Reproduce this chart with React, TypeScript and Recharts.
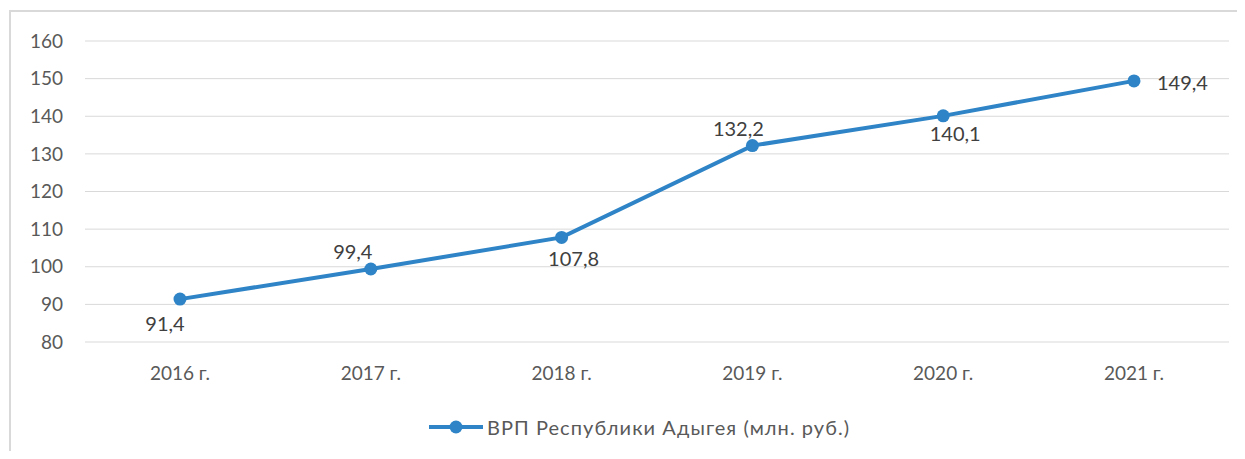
import { CartesianGrid, LabelList, Legend, Line, LineChart, XAxis, YAxis } from "recharts";

const years = ["2016 г.", "2017 г.", "2018 г.", "2019 г.", "2020 г.", "2021 г."];
const grpValues = [91.4, 99.4, 107.8, 132.2, 140.1, 149.4];
const yTicks = [80, 90, 100, 110, 120, 130, 140, 150, 160];
const seriesName = "ВРП Республики Адыгея (млн. руб.)";

// where each data label sits relative to its point
const labelOffsets = [
  { dx: -15, dy: 24, anchor: "middle" },
  { dx: -18, dy: -18, anchor: "middle" },
  { dx: 12, dy: 21, anchor: "middle" },
  { dx: -14, dy: -18, anchor: "middle" },
  { dx: 12, dy: 17, anchor: "middle" },
  { dx: 23, dy: 1, anchor: "start" },
];

const rows = years.map((year, i) => ({ year, value: grpValues[i] }));

const blue = "#2E84C6";
const font = "Lato, 'Liberation Sans', sans-serif";
const axisText = { fill: "#595959", fontSize: 19, fontFamily: font };

const fmt = (v: number) => v.toFixed(1).replace(".", ",");

function PointLabel(props: any) {
  const { x, y, value, index } = props;
  const off = labelOffsets[index] ?? { dx: 0, dy: -18, anchor: "middle" };
  return (
    <text
      x={x + off.dx}
      y={y + off.dy}
      textAnchor={off.anchor}
      dominantBaseline="central"
      fill="#404040"
      fontSize={20}
      fontFamily={font}
    >
      {fmt(value)}
    </text>
  );
}

function LegendRow() {
  return (
    <div
      style={{
        display: "flex",
        alignItems: "center",
        height: 24,
        paddingLeft: 421,
        fontFamily: font,
        fontSize: 20,
        letterSpacing: 1.05,
        color: "#595959",
        whiteSpace: "nowrap",
      }}
    >
      <svg width={58} height={24} style={{ flex: "none" }}>
        <line x1={0} y1={12} x2={54} y2={12} stroke={blue} strokeWidth={4} />
        <circle cx={27} cy={12} r={6.5} fill={blue} />
      </svg>
      <span>{seriesName}</span>
    </div>
  );
}

export default function App() {
  return (
    <div style={{ position: "relative", width: 1229, height: 443, overflow: "hidden", background: "#fff" }}>
      <div
        style={{
          position: "absolute",
          left: 1,
          top: 2,
          width: 1400,
          height: 600,
          border: "2px solid #d9d9d9",
        }}
      />
      <LineChart
        width={1229}
        height={443}
        data={rows}
        margin={{ top: 33, right: 8, left: 0, bottom: 45 }}
        style={{ position: "absolute", left: 0, top: 0 }}
      >
        <CartesianGrid vertical={false} stroke="#d9d9d9" strokeWidth={1} />
        <XAxis
          dataKey="year"
          axisLine={false}
          tickLine={false}
          tickSize={0}
          tickMargin={25}
          height={40}
          tick={axisText}
          interval={0}
          padding={{ left: 95, right: 95 }}
        />
        <YAxis
          width={77}
          domain={[80, 160]}
          ticks={yTicks}
          interval={0}
          axisLine={false}
          tickLine={false}
          tickSize={0}
          tickMargin={22}
          tick={axisText}
        />
        <Legend
          verticalAlign="bottom"
          content={() => <LegendRow />}
          wrapperStyle={{ top: 407, bottom: "auto", left: 0, width: 1229 }}
        />
        <Line
          type="linear"
          dataKey="value"
          name={seriesName}
          stroke={blue}
          strokeWidth={4}
          dot={{ r: 6.5, fill: blue, stroke: blue, strokeWidth: 0 }}
          activeDot={false}
          isAnimationActive={false}
        >
          <LabelList dataKey="value" content={PointLabel} />
        </Line>
      </LineChart>
    </div>
  );
}
